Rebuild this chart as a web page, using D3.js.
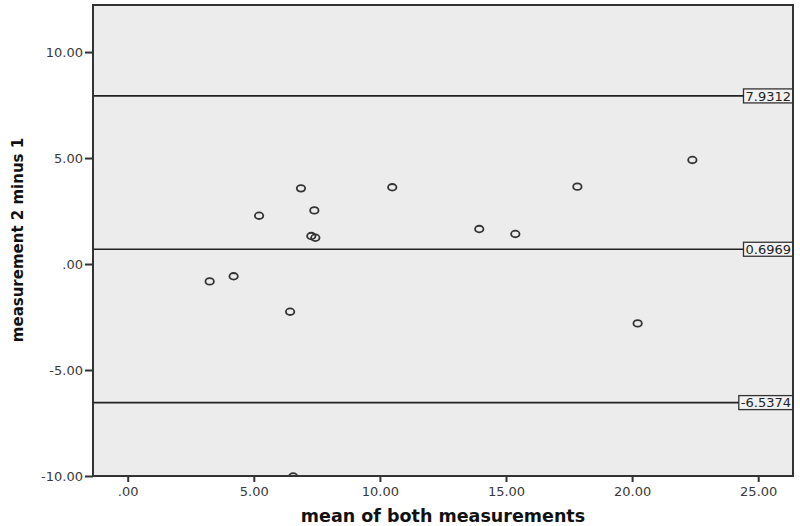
<!DOCTYPE html>
<html>
<head>
<meta charset="utf-8">
<script src="https://cdn.jsdelivr.net/npm/d3@7.9.0/dist/d3.min.js"></script>
<style>
  body { margin: 0; background: #fff; }
  text { font-family: "DejaVu Sans", sans-serif; }
</style>
</head>
<body>
<div id="chart"></div>
<script>
// mean of both measurements (x) and measurement 2 minus 1 (y)
const meanVals = [3.25, 4.20, 5.21, 6.87, 7.40, 7.28, 7.44, 6.44, 10.49, 13.94, 15.37, 17.83, 22.39, 20.22, 6.56];
const diffVals = [-0.82, -0.58, 2.28, 3.57, 2.53, 1.32, 1.24, -2.25, 3.62, 1.65, 1.42, 3.65, 4.91, -2.80, -10.02];

// mean difference and limits of agreement
const refLines = [7.9312, 0.6969, -6.5374];
const refLabels = ["7.9312", "0.6969", "-6.5374"];

const xTicks = [0, 5, 10, 15, 20, 25];
const yTicks = [-10, -5, 0, 5, 10];

const width = 800, height = 526;
const plot = { left: 93, right: 793, top: 5, bottom: 476 };

const svg = d3.select("#chart").append("svg")
    .attr("width", width)
    .attr("height", height);

const x = d3.scaleLinear().domain([-1.376, 26.38]).range([plot.left, plot.right]);
const y = d3.scaleLinear().domain([-10, 12.22]).range([plot.bottom, plot.top]);

// SPSS style: ".00" for zero, plain hyphen for negatives
const fmt = v => v === 0 ? ".00" : (v < 0 ? "-" : "") + Math.abs(v).toFixed(2);

svg.append("defs").append("clipPath")
    .attr("id", "plotClip")
    .append("rect")
    .attr("x", plot.left)
    .attr("y", plot.top)
    .attr("width", plot.right - plot.left)
    .attr("height", plot.bottom - plot.top);

svg.append("rect")
    .attr("x", plot.left)
    .attr("y", plot.top)
    .attr("width", plot.right - plot.left)
    .attr("height", plot.bottom - plot.top)
    .attr("fill", "#ececec");

// reference lines
const refG = svg.append("g");
refLines.forEach((v, i) => {
    const lab = refG.append("text")
        .attr("x", plot.right - 2)
        .attr("y", y(v))
        .attr("dy", "0.37em")
        .attr("text-anchor", "end")
        .attr("fill", "#222")
        .style("font-size", "13px")
        .text(refLabels[i]);
    const bb = lab.node().getBBox();
    const boxLeft = bb.x - 2;
    refG.insert("rect", "text")
        .attr("x", boxLeft)
        .attr("y", y(v) - 7)
        .attr("width", plot.right - boxLeft)
        .attr("height", 14)
        .attr("fill", "#f2f2f2")
        .attr("stroke", "#333")
        .attr("stroke-width", 1.3);
    refG.append("line")
        .attr("x1", plot.left)
        .attr("x2", boxLeft)
        .attr("y1", y(v))
        .attr("y2", y(v))
        .attr("stroke", "#222")
        .attr("stroke-width", 1.6);
});

// points
svg.append("g")
    .attr("clip-path", "url(#plotClip)")
    .selectAll("ellipse")
    .data(meanVals)
    .join("ellipse")
    .attr("cx", d => x(d))
    .attr("cy", (d, i) => y(diffVals[i]))
    .attr("rx", 4.2)
    .attr("ry", 3.3)
    .attr("fill", "none")
    .attr("stroke", "#333")
    .attr("stroke-width", 1.8);

// frame
svg.append("rect")
    .attr("x", plot.left)
    .attr("y", plot.top)
    .attr("width", plot.right - plot.left)
    .attr("height", plot.bottom - plot.top)
    .attr("fill", "none")
    .attr("stroke", "#333")
    .attr("stroke-width", 2);

const xAxis = svg.append("g")
    .attr("transform", "translate(0," + plot.bottom + ")")
    .call(d3.axisBottom(x).tickValues(xTicks).tickFormat(fmt).tickSize(6).tickSizeOuter(0).tickPadding(5));
xAxis.select(".domain").remove();
xAxis.selectAll("line").attr("stroke", "#333").attr("stroke-width", 2);
xAxis.selectAll("text")
    .attr("fill", "#3a3a3a")
    .style("font-size", "13px");

const yAxis = svg.append("g")
    .attr("transform", "translate(" + plot.left + ",0)")
    .call(d3.axisLeft(y).tickValues(yTicks).tickFormat(fmt).tickSize(8).tickSizeOuter(0).tickPadding(2));
yAxis.select(".domain").remove();
yAxis.selectAll("line").attr("stroke", "#333").attr("stroke-width", 2);
yAxis.selectAll("text")
    .attr("fill", "#3a3a3a")
    .style("font-size", "13px");

svg.append("text")
    .attr("x", (plot.left + plot.right) / 2)
    .attr("y", 522)
    .attr("text-anchor", "middle")
    .attr("fill", "#111")
    .style("font-size", "17.5px")
    .style("font-weight", "bold")
    .text("mean of both measurements");

svg.append("text")
    .attr("transform", "rotate(-90)")
    .attr("x", -240)
    .attr("y", 23)
    .attr("text-anchor", "middle")
    .attr("fill", "#111")
    .style("font-size", "15px")
    .style("font-weight", "bold")
    .text("measurement 2 minus 1");
</script>
</body>
</html>
